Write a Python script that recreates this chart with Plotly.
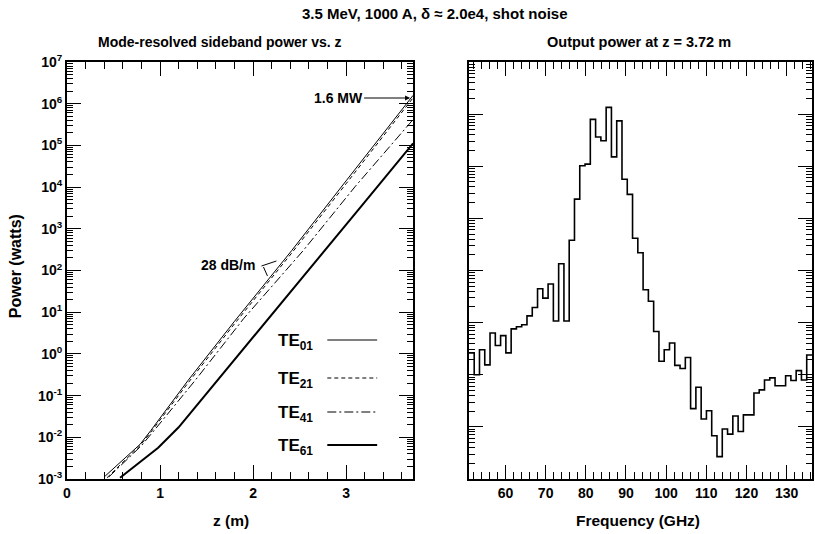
import plotly.graph_objects as go

# ---------------- data ----------------
# Left panel: mode-resolved sideband power vs z (z in m, power as log10 W)
te01_z = [0.41, 0.60, 0.785, 0.90, 1.30, 1.80, 2.416, 3.00, 3.72]
te01_logp = [-2.93, -2.55, -2.17, -1.84, -0.64, 0.78, 2.48, 4.15, 6.20]
te21_z = [0.43, 0.60, 0.785, 0.90, 1.30, 1.80, 2.416, 3.00, 3.72]
te21_logp = [-2.97, -2.60, -2.20, -1.88, -0.70, 0.72, 2.42, 4.08, 6.14]
te41_z = [0.45, 0.60, 0.80, 0.95, 1.376, 1.90, 2.54, 3.10, 3.72]
te41_logp = [-2.95, -2.62, -2.20, -1.80, -0.64, 0.85, 2.48, 4.02, 5.62]
te61_z = [0.57, 0.75, 0.90, 0.98, 1.20, 1.49, 2.00, 2.77, 3.20, 3.72]
te61_logp = [-2.97, -2.65, -2.40, -2.25, -1.76, -0.98, 0.40, 2.48, 3.64, 5.05]

# Right panel: output spectrum at z = 3.72 m (65 frequency bins, log10 power)
freq_start = 50.9      # GHz, lower edge of first bin
freq_width = 1.314     # GHz, bin width
spec_logp = [2.42, 2.00, 2.48, 2.19, 2.80, 2.56, 2.75, 2.42, 2.88, 2.92,
             2.96, 3.13, 3.29, 3.65, 3.47, 3.74, 3.03, 4.13, 3.03, 4.58,
             5.37, 6.01, 6.04, 6.90, 6.56, 6.49, 7.13, 6.18, 6.87, 5.75,
             5.46, 4.62, 4.34, 3.63, 3.41, 2.83, 2.26, 2.48, 2.61, 2.18,
             2.12, 2.33, 1.35, 1.76, 1.15, 1.31, 0.83, 0.43, 0.96, 0.86,
             1.21, 0.91, 1.23, 1.23, 1.65, 1.71, 1.90, 1.94, 1.79, 1.79,
             1.98, 1.89, 2.08, 1.90, 2.38]

left_ytick_exp = [-3, -2, -1, 0, 1, 2, 3, 4, 5, 6, 7]
left_xticks = [0, 1, 2, 3]
right_xticks = [60, 70, 80, 90, 100, 110, 120, 130]

# ---------------- layout helpers ----------------
W, H = 815, 534
ML, MR, MT, MB = 67, 1, 62, 55
PW, PH = W - ML - MR, H - MT - MB


def X(px):
    return (px - ML) / PW


def Y(py):
    return (H - MB - py) / PH


FONT = "Liberation Sans, Arial, Helvetica, sans-serif"

fig = go.Figure()


def pw(v):
    return [10 ** a for a in v]


fig.add_trace(go.Scatter(x=te01_z, y=pw(te01_logp), mode="lines", name="TE01",
                         line=dict(color="black", width=1), xaxis="x", yaxis="y"))
fig.add_trace(go.Scatter(x=te21_z, y=pw(te21_logp), mode="lines", name="TE21",
                         line=dict(color="black", width=1, dash="4px,3px"), xaxis="x", yaxis="y"))
fig.add_trace(go.Scatter(x=te41_z, y=pw(te41_logp), mode="lines", name="TE41",
                         line=dict(color="black", width=1, dash="9px,3px,2px,3px"), xaxis="x", yaxis="y"))
fig.add_trace(go.Scatter(x=te61_z, y=pw(te61_logp), mode="lines", name="TE61",
                         line=dict(color="black", width=2), xaxis="x", yaxis="y"))

edges = [freq_start + i * freq_width for i in range(len(spec_logp) + 1)]
fig.add_trace(go.Scatter(x=edges, y=pw(spec_logp + [spec_logp[-1]]), mode="lines",
                         line=dict(color="black", width=1.6, shape="hv"),
                         xaxis="x2", yaxis="y2", showlegend=False))

axis_common = dict(showline=True, linecolor="black", linewidth=2, mirror="allticks",
                   ticks="inside", tickcolor="black", tickwidth=1.2, ticklen=14,
                   showgrid=False, zeroline=False,
                   tickfont=dict(size=14, family=FONT, color="black", weight="bold"))

fig.update_layout(
    width=W, height=H,
    margin=dict(l=ML, r=MR, t=MT, b=MB),
    paper_bgcolor="white", plot_bgcolor="white",
    font=dict(family=FONT, size=14, color="black", weight="bold"),
    showlegend=False,
    xaxis=dict(domain=[0, X(414)], range=[0, 3.72], tickvals=left_xticks,
               minor=dict(dtick=0.2, ticks="inside", ticklen=7, tickcolor="black", tickwidth=1),
               anchor="y", **axis_common),
    yaxis=dict(domain=[0, 1], type="log", range=[-3, 7],
               tickvals=[10 ** e for e in left_ytick_exp],
               ticktext=["10<sup>%d</sup>" % e for e in left_ytick_exp],
               minor=dict(ticks="inside", ticklen=6, tickcolor="black", tickwidth=1, dtick="D1"),
               anchor="x", **axis_common),
    xaxis2=dict(domain=[X(470), 1], range=[freq_start, freq_start + freq_width * len(spec_logp)],
                tickvals=right_xticks,
                minor=dict(dtick=2, tick0=0, ticks="inside", ticklen=7, tickcolor="black", tickwidth=1),
                anchor="y2", **axis_common),
    yaxis2=dict(domain=[0, 1], type="log", range=[0, 8], dtick=1, showticklabels=False,
                minor=dict(ticks="inside", ticklen=6, tickcolor="black", tickwidth=1, dtick="D1"),
                anchor="x2", **axis_common),
)

ann = []


def text(px, py, s, size=14, xanchor="center", yanchor="middle", angle=0):
    ann.append(dict(xref="paper", yref="paper", x=X(px), y=Y(py), text=s, showarrow=False,
                    xanchor=xanchor, yanchor=yanchor, textangle=angle,
                    font=dict(size=size, family=FONT, color="black", weight="bold")))


text(436, 13, "3.5 MeV, 1000 A, δ ≈ 2.0e4, shot noise", 15)
text(220, 42, "Mode-resolved sideband power vs. z", 14)
text(641, 42, "Output power at z = 3.72 m", 14.5)
text(15, 266, "Power (watts)", 16, angle=-90)
text(231, 520, "z (m)", 15.5)
text(640, 520, "Frequency (GHz)", 15.5)
text(228, 265, "28 dB/m", 14)

legend_items = [("TE<sub>01</sub>", 340, dict(width=1)),
                ("TE<sub>21</sub>", 378, dict(width=1, dash="4px,3px")),
                ("TE<sub>41</sub>", 412, dict(width=1, dash="9px,3px,2px,3px")),
                ("TE<sub>61</sub>", 445, dict(width=2))]
shapes = []
for label, py, ln in legend_items:
    text(316, py + 2, label, 17, xanchor="right")
    shapes.append(dict(type="line", xref="paper", yref="paper", x0=X(328), x1=X(378),
                       y0=Y(py), y1=Y(py), line=dict(color="black", **ln)))

# 28 dB/m bracket
shapes.append(dict(type="path", xref="paper", yref="paper",
                   path="M %f,%f L %f,%f M %f,%f L %f,%f" % (X(262), Y(266), X(277), Y(261),
                                                           X(264), Y(267), X(268), Y(276)),
                   line=dict(color="black", width=1)))

# 1.6 MW arrow
ann.append(dict(xref="paper", yref="paper", x=X(411), y=Y(98), ax=-72, ay=0,
                text="1.6 MW", showarrow=True, arrowhead=2, arrowsize=1, arrowwidth=1,
                arrowcolor="black", standoff=0,
                font=dict(size=14, family=FONT, color="black", weight="bold")))

fig.update_layout(annotations=ann, shapes=shapes)
fig.write_html("out.html")
